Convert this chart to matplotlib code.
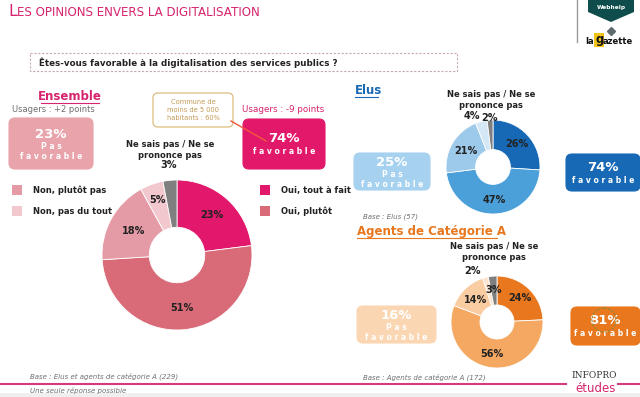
import numpy as np
import matplotlib
matplotlib.use("Agg")
from matplotlib import pyplot as plt
from matplotlib.patches import FancyBboxPatch, Rectangle, Circle, Polygon

#%% Data
ens_labels = ['Oui, tout à fait', 'Oui, plutôt', 'Non, plutôt pas', 'Non, pas du tout', 'Ne sais pas / Ne se prononce pas']
ens_values = [23, 51, 18, 5, 3]
ens_colors = ['#E2186C', '#D96A78', '#E49BA6', '#F2C8CE', '#7F7F7F']

elus_values = [26, 47, 21, 4, 2]
elus_colors = ['#1769B5', '#4CA0DA', '#9DC9EA', '#D3E7F5', '#7F7F7F']

agents_values = [24, 56, 14, 2, 3]
agents_colors = ['#E8771D', '#F4A862', '#F9CCA2', '#FCE4CF', '#7F7F7F']

ens_fav, ens_pas = '74%', '23%'
elus_fav, elus_pas = '74%', '25%'
agents_fav, agents_pas = '81%', '16%'

W, H = 640, 397
fig = plt.figure(figsize=(W / 100, H / 100), dpi=100)
ax = fig.add_axes([0, 0, 1, 1])
ax.set_xlim(0, W)
ax.set_ylim(H, 0)
ax.axis('off')

DARK = '#222222'
GREY = '#6E6E6E'
PINK = '#D6246E'


def box(x0, y0, x1, y1, color, big, small, edge=None):
    p = FancyBboxPatch((x0, y0), x1 - x0, y1 - y0, boxstyle='round,pad=0,rounding_size=6',
                       fc=color, ec=edge if edge else color, lw=0.8)
    ax.add_patch(p)
    xc = (x0 + x1) / 2
    lines = small.split('\n')
    if len(lines) == 1:
        ax.text(xc, (y0 + y1) / 2 - 5, big, ha='center', va='center', color='white', fontsize=9.5, weight='bold')
        ax.text(xc, (y0 + y1) / 2 + 8, small, ha='center', va='center', color='white', fontsize=5.5, weight='bold')
    else:
        ax.text(xc, (y0 + y1) / 2 - 9, big, ha='center', va='center', color='white', fontsize=9.5, weight='bold')
        ax.text(xc, (y0 + y1) / 2 + 3, lines[0], ha='center', va='center', color='white', fontsize=5.5, weight='bold')
        ax.text(xc, (y0 + y1) / 2 + 13, lines[1], ha='center', va='center', color='white', fontsize=5.5, weight='bold')


def donut(cx, cy, r, values, colors):
    d = fig.add_axes([(cx - r) / W, 1 - (cy + r) / H, 2 * r / W, 2 * r / H])
    wedges, _ = d.pie(values, colors=colors, startangle=90, counterclock=False,
                      wedgeprops=dict(width=0.63, edgecolor='white', linewidth=0.6))
    d.set_xlim(-1, 1)
    d.set_ylim(-1, 1)
    d.set_aspect('equal')
    d.axis('off')
    return d, wedges


def pct_labels(d, wedges, values, rads, offs=None):
    offs = offs or {}
    for i, (w, v) in enumerate(zip(wedges, values)):
        a = np.deg2rad((w.theta1 + w.theta2) / 2)
        rr = rads[i]
        dx, dy = offs.get(i, (0, 0))
        d.text(rr * np.cos(a) + dx, rr * np.sin(a) + dy, f'{v}%', ha='center', va='center',
               fontsize=7, weight='bold', color=DARK, clip_on=False)


#%% Header
ax.text(8, 16, 'L', color=PINK, fontsize=11.5, va='baseline')
ax.text(17, 16, 'ES OPINIONS ENVERS LA DIGITALISATION', color=PINK, fontsize=8.6, va='baseline')
ax.plot([577, 577], [0, 42], color='#9A9A9A', lw=1)
ax.add_patch(Polygon([[588, 0], [634, 0], [634, 12], [611, 22], [588, 12]], closed=True, fc='#0F4C4C', ec='none'))
ax.text(611, 7, 'Webhelp', color='white', fontsize=4.2, ha='center', va='center', weight='bold')
ax.plot([611], [31], marker='D', ms=4, color='#5E6A6E')
ax.text(585, 41, 'la', fontsize=6, weight='bold', va='center', color='#111111')
ax.text(595, 40, 'g', fontsize=8.5, weight='bold', va='center', color='#111111',
        bbox=dict(boxstyle='square,pad=0.05', fc='#F2C318', ec='none'))
ax.text(603, 41, 'azette', fontsize=6, weight='bold', va='center', color='#111111')

ax.add_patch(Rectangle((30, 53), 427, 18, fill=False, ec='#C7A7B4', lw=0.8, ls=(0, (2, 1.5))))
ax.text(39, 62.5, 'Êtes-vous favorable à la digitalisation des services publics ?', fontsize=6.3,
        va='center', color=DARK, weight='bold')

#%% Ensemble
ax.text(70, 97, 'Ensemble', fontsize=8.5, weight='bold', color=PINK, ha='center', va='center')
ax.plot([41, 99], [103, 103], color=PINK, lw=0.8)
ax.text(53, 109, 'Usagers : +2 points', fontsize=6, color=GREY, ha='center', va='center')
ax.text(283, 109, 'Usagers : -9 points', fontsize=6.3, color=PINK, ha='center', va='center')
box(9, 118, 93, 169, '#E8A3AB', ens_pas, 'P a s\nf a v o r a b l e')
box(243, 119, 325, 169, '#E2196B', ens_fav, 'f a v o r a b l e')

ax.add_patch(FancyBboxPatch((153, 93), 80, 34, boxstyle='round,pad=0,rounding_size=5',
                            fc='white', ec='#D9B56E', lw=0.8))
ax.text(193, 110, 'Commune de\nmoins de 5 000\nhabitants : 60%', fontsize=4.8, color='#C49A55',
        ha='center', va='center', linespacing=1.3)
ax.plot([231, 266], [121, 141], color='#F05A3C', lw=1)

for (lx, ly, col, txt) in [(17, 190, ens_colors[2], ens_labels[2]), (17, 211, ens_colors[3], ens_labels[3]),
                           (265, 190, ens_colors[0], ens_labels[0]), (265, 211, ens_colors[1], ens_labels[1])]:
    ax.add_patch(Rectangle((lx - 5, ly - 5), 10, 10, fc=col, ec='none'))
    ax.text(lx + 16, ly, txt, fontsize=6, weight='bold', color=DARK, va='center')

ax.text(170, 150, 'Ne sais pas / Ne se\nprononce pas', fontsize=6, weight='bold', color=DARK,
        ha='center', va='center', linespacing=1.4)
d1, w1 = donut(177, 255, 75, ens_values, ens_colors)
pct_labels(d1, w1, ens_values, [0.71, 0.71, 0.66, 0.78, 1.18], {4: (0.0, 0.02)})

#%% Elus
ax.text(355, 91, 'Elus', fontsize=8.5, weight='bold', color='#1769B5', va='center')
ax.plot([355, 378], [97, 97], color='#1769B5', lw=0.8)
ax.text(491, 100, 'Ne sais pas / Ne se\nprononce pas', fontsize=6, weight='bold', color=DARK,
        ha='center', va='center', linespacing=1.4)
d2, w2 = donut(493, 167, 47, elus_values, elus_colors)
pct_labels(d2, w2, elus_values, [0.71, 0.71, 0.68, 1.12, 1.05], {3: (-0.18, 0.0)})
box(354, 153, 430, 190, '#A6D2F0', elus_pas, 'P a s\nf a v o r a b l e')
box(566, 154, 640, 191, '#1769B5', elus_fav, 'f a v o r a b l e')
ax.text(363, 217, 'Base : Elus (57)', fontsize=5, style='italic', color=GREY, va='center')

#%% Agents
ax.text(357, 231, 'Agents de Catégorie A', fontsize=8.5, weight='bold', color='#E8771D', va='center')
ax.plot([357, 497], [238, 238], color='#E8771D', lw=0.8)
ax.text(494, 252, 'Ne sais pas / Ne se\nprononce pas', fontsize=6, weight='bold', color=DARK,
        ha='center', va='center', linespacing=1.4)
d3, w3 = donut(497, 322, 46, agents_values, agents_colors)
pct_labels(d3, w3, agents_values, [0.73, 0.71, 0.66, 1.15, 0.7], {3: (-0.25, 0.0)})
box(357, 306, 436, 343, '#FBD6B2', agents_pas, 'P a s\nf a v o r a b l e')
box(571, 307, 640, 345, '#E8771D', agents_fav, 'f a v o r a b l e')
ax.add_patch(Circle((604, 320), 12, fill=False, ec='#8C8A3A', lw=0.8, ls=(0, (2, 1.5)), zorder=5))
ax.add_patch(Circle((492, 354), 13, fill=False, ec='#8C8A3A', lw=0.8, ls=(0, (2, 1.5)), zorder=5))
ax.text(363, 377, 'Base : Agents de catégorie A (172)', fontsize=5, style='italic', color=GREY, va='center')

#%% Footer
ax.text(30, 376, 'Base : Elus et agents de catégorie A (229)', fontsize=5, style='italic', color=GREY, va='center')
ax.plot([0, 566], [383.5, 383.5], color='#D63A7C', lw=1.5)
ax.plot([618, 640], [383.5, 383.5], color='#D63A7C', lw=1.5)
ax.text(30, 391, 'Une seule réponse possible', fontsize=5, style='italic', color=GREY, va='center')
ax.text(594, 376, 'INFOPRO', fontsize=6.5, family='DejaVu Serif', color='#333333', ha='center', va='center')
ax.text(596, 389, 'études', fontsize=8.5, color=PINK, ha='center', va='center')
ax.add_patch(Rectangle((0, 393), 640, 4, fc='#EFEFEF', ec='none'))

fig.savefig('out.png', dpi=100)
